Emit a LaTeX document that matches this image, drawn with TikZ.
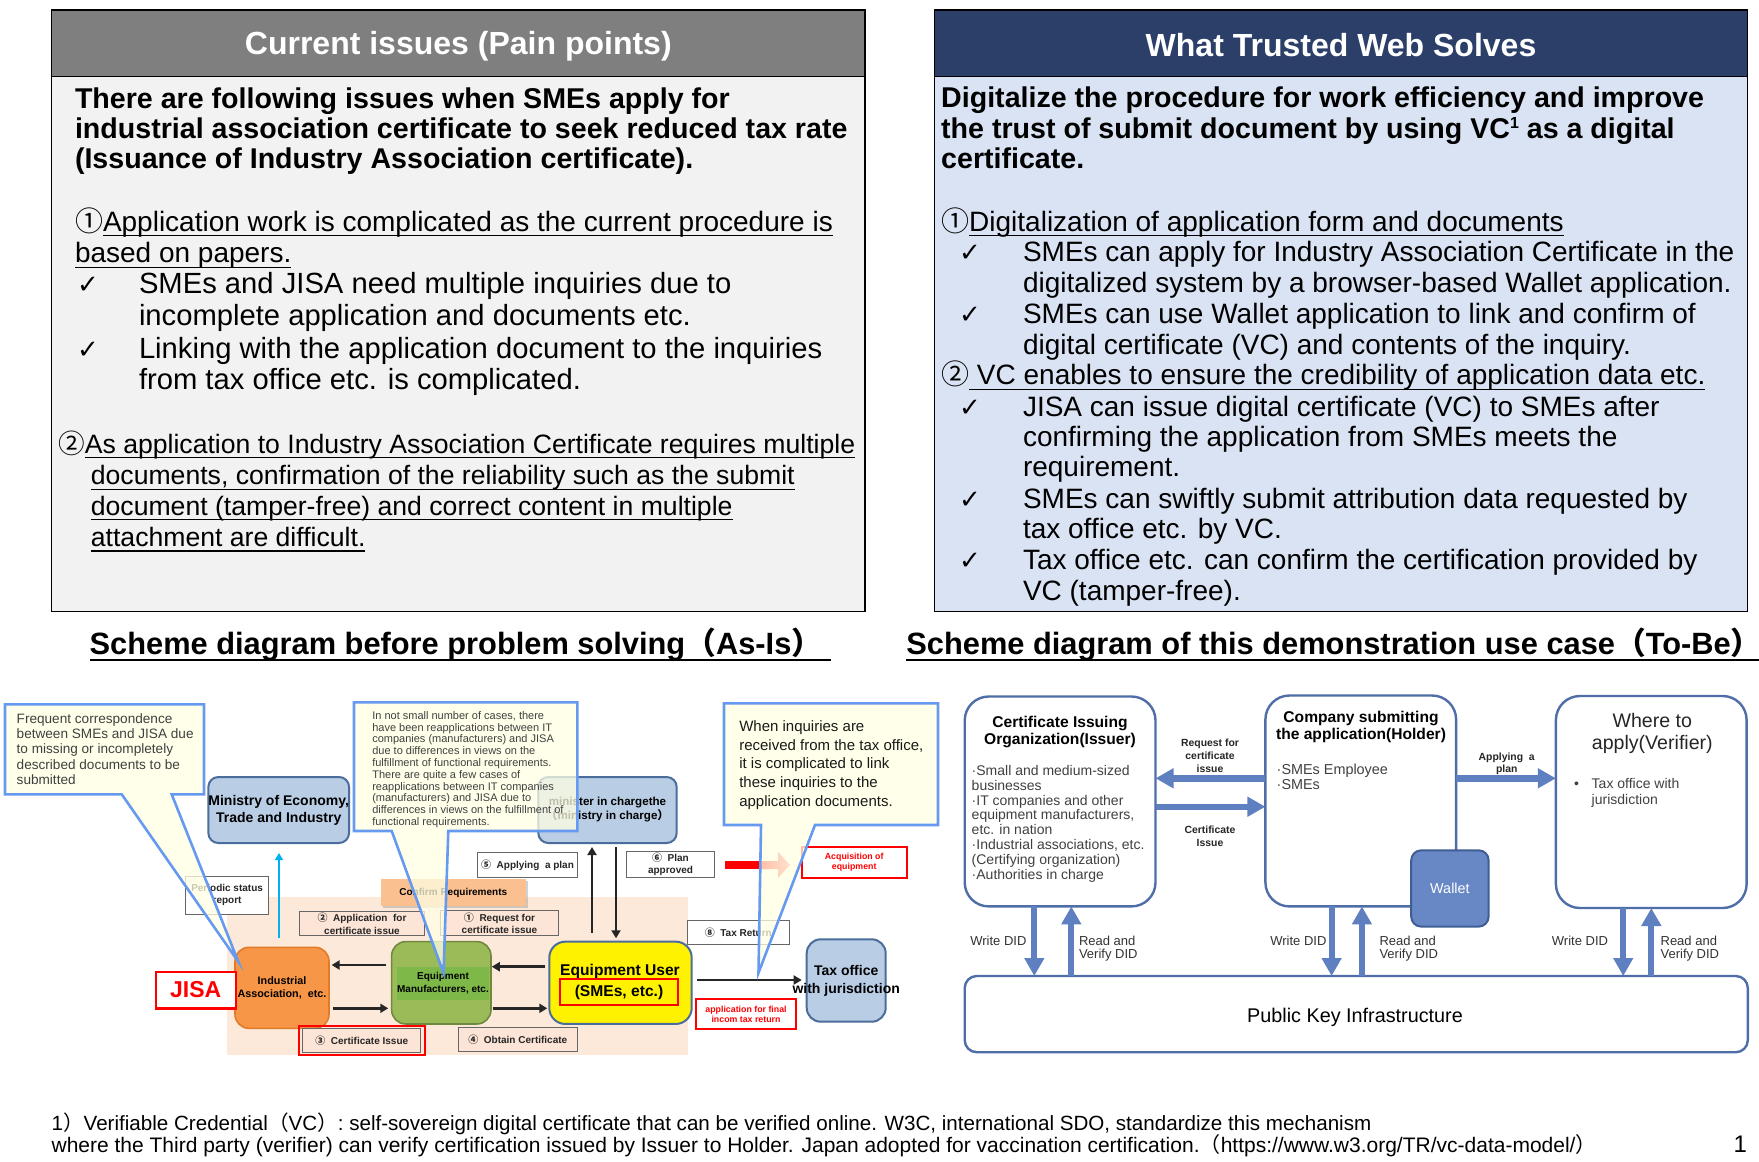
\documentclass[tikz,border=0pt]{standalone}
\usepackage{fontspec}
\setmainfont{Liberation Sans}
\newfontfamily\cjk{Noto Sans CJK JP}
\newfontfamily\djv{DejaVu Sans}
\usetikzlibrary{arrows.meta,shadows}
\newcommand\myfs[2]{\fontsize{#1}{#2}\selectfont}
\newcommand\myul[1]{\setbox0=\hbox{#1}\rlap{\rule[-2.6pt]{\wd0}{0.6pt}}\box0}
\newcommand\myulh[1]{\setbox0=\hbox{#1}\rlap{\rule[-3.3pt]{\wd0}{0.8pt}}\box0}
\definecolor{hdrgray}{HTML}{7F7F7F}
\definecolor{bodygray}{HTML}{F2F2F2}
\definecolor{hdrnavy}{HTML}{2B3F69}
\definecolor{bodyblue}{HTML}{DAE3F3}
\definecolor{callfill}{HTML}{FFFFE3}
\definecolor{callline}{HTML}{6699F0}
\definecolor{peachbg}{HTML}{FDE9D9}
\definecolor{peachbox}{HTML}{FCE4D6}
\definecolor{lorange}{HTML}{FAC090}
\definecolor{orangebox}{HTML}{F79646}
\definecolor{orangeline}{HTML}{E07B2A}
\definecolor{greenbox}{HTML}{9BBB59}
\definecolor{greeninner}{HTML}{7DB848}
\definecolor{greenline}{HTML}{71893F}
\definecolor{steelfill}{HTML}{B9CDE5}
\definecolor{steelline}{HTML}{4A6D9B}
\definecolor{cyanarrow}{HTML}{00B0F0}
\definecolor{tbblue}{HTML}{5F80C0}
\definecolor{tbline}{HTML}{4F6EA8}
\definecolor{walletfill}{HTML}{6887C5}
\definecolor{walletline}{HTML}{3F5E94}
\begin{document}
\begin{tikzpicture}[x=0.5pt,y=-0.5pt,
  every node/.style={inner sep=0pt,outer sep=0pt},
  pb/.style={anchor=base west,font=\myfs{14.3}{16}\bfseries},
  pr/.style={anchor=base west,font=\myfs{14}{16}},
  ck/.style={anchor=base west,font=\djv\myfs{13}{16}},
  stbox/.style={draw=steelline,fill=steelfill,line width=1pt,rounded corners=5pt,font=\myfs{7}{8.5}\bfseries,align=center},
  lbl/.style={draw=gray!80!black,fill=white,line width=0.5pt,font=\myfs{5}{6.2}\bfseries,align=center,text=black!85},
  pch/.style={lbl,fill=peachbox},
  redlbl/.style={draw=red,fill=white,line width=1pt,text=red,font=\myfs{4.4}{5.2}\bfseries,align=center},
  blk/.style={-{Triangle[length=4pt,width=4.5pt]},line width=1.3pt,draw=black!85},
  cyarr/.style={-{Triangle[length=3.5pt,width=4pt]},line width=1.2pt,draw=cyanarrow},
  call/.style={draw=callline,line width=1.3pt,fill=callfill,fill opacity=0.75,line join=miter},
  tbbox/.style={draw=tbline,line width=1.2pt,fill=white,rounded corners=12pt},
  tbarr/.style={-{Triangle[length=9pt,width=9.5pt]},line width=3.2pt,draw=tbblue},
  tblab/.style={font=\myfs{5.2}{6.4}\bfseries,align=center,text=black!85},
  did/.style={font=\myfs{6.5}{6.7},align=left,text=black!80}]
\useasboundingbox (0,0) rectangle (1759,1161);
\fill[white] (0,0) rectangle (1759,1161);

% ---------- top left panel ----------
\draw[line width=0.6pt,fill=bodygray] (51.6,10) rectangle (865,611.4);
\draw[line width=0.6pt,fill=hdrgray] (51.6,10) rectangle (865,76.3);
\node[font=\myfs{16}{19}\bfseries,text=white] (hdl) at (458.3,46.5) {Current issues (Pain points)};
\node[pb] (a1) at (75,108) {There are following issues when SMEs apply for};
\node[pb] (a2) at (75,138) {industrial association certificate to seek reduced tax rate};
\node[pb] (a3) at (75,168) {(Issuance of Industry Association certificate).};
\node[pr] (a4) at (75,231) {{\cjk ①}\myul{Application work is complicated as the current procedure is}};
\node[pr] (a5) at (75,262.5) {\myul{based on papers.}};
\node[ck] (a6) at (77,293) {✓};
\node[pr,font=\myfs{14.6}{16}] (a7) at (139,293) {SMEs and JISA need multiple inquiries due to};
\node[pr,font=\myfs{14.6}{16}] (a8) at (139,325.3) {incomplete application and documents etc.};
\node[ck] (a9) at (77,358) {✓};
\node[pr,font=\myfs{14.6}{16}] (a10) at (139,358) {Linking with the application document to the inquiries};
\node[pr,font=\myfs{14.6}{16}] (a11) at (139,389.3) {from tax office etc. is complicated.};
\node[pr,font=\myfs{13.3}{16}] (a12) at (58.3,453) {{\cjk ②}\myul{As application to Industry Association Certificate requires multiple}};
\node[pr,font=\myfs{13.3}{16}] (a13) at (90.9,484.6) {\myul{documents, confirmation of the reliability such as the submit}};
\node[pr,font=\myfs{13.3}{16}] (a14) at (90.9,515) {\myul{document (tamper-free) and correct content in multiple}};
\node[pr,font=\myfs{13.3}{16}] (a15) at (90.9,546.3) {\myul{attachment are difficult.}};

% ---------- top right panel ----------
\draw[line width=0.6pt,fill=bodyblue] (934.5,10) rectangle (1747.8,611.4);
\draw[line width=0.6pt,fill=hdrnavy] (934.5,10) rectangle (1747.8,76.3);
\node[font=\myfs{16}{19}\bfseries,text=white] (hdr) at (1341,45) {What Trusted Web Solves};
\node[pb] (b1) at (941.2,107.7) {Digitalize the procedure for work efficiency and improve};
\node[pb] (b2) at (941.2,138) {the trust of submit document by using VC{\myfs{8}{8}\raisebox{5pt}{1}} as a digital};
\node[pb] (b3) at (941.2,168.3) {certificate.};
\node[pr] (b4) at (941.2,231.1) {{\cjk ①}\myul{Digitalization of application form and documents}};
\node[ck] (b5) at (959,261.4) {✓};
\node[pr] (b6) at (1023,261.4) {SMEs can apply for Industry Association Certificate in the};
\node[pr] (b7) at (1023,292.8) {digitalized system by a browser-based Wallet application.};
\node[ck] (b8) at (959,323.1) {✓};
\node[pr] (b9) at (1023,323.1) {SMEs can use Wallet application to link and confirm of};
\node[pr] (b10) at (1023,354.5) {digital certificate (VC) and contents of the inquiry.};
\node[pr] (b11) at (941.2,384.8) {{\cjk ②}\myul{ VC enables to ensure the credibility of application data etc.}};
\node[ck] (b12) at (959,416.2) {✓};
\node[pr] (b13) at (1023,416.2) {JISA can issue digital certificate (VC) to SMEs after};
\node[pr] (b14) at (1023,446.5) {confirming the application from SMEs meets the};
\node[pr] (b15) at (1023,476.8) {requirement.};
\node[ck] (b16) at (959,508.2) {✓};
\node[pr] (b17) at (1023,508.2) {SMEs can swiftly submit attribution data requested by};
\node[pr] (b18) at (1023,538.5) {tax office etc. by VC.};
\node[ck] (b19) at (959,569.9) {✓};
\node[pr] (b20) at (1023,569.9) {Tax office etc. can confirm the certification provided by};
\node[pr] (b21) at (1023,600.2) {VC (tamper-free).};

% ---------- section headings ----------
\node[anchor=base west,font=\myfs{15.4}{18}\bfseries] (h1) at (89.7,654) {\myulh{Scheme diagram before problem solving{\cjk （}As-Is{\cjk ）}\ }};
\node[anchor=base west,font=\myfs{15.4}{18}\bfseries] (h2) at (906.4,654) {\myulh{Scheme diagram of this demonstration use case{\cjk （}To-Be{\cjk ）}}};

% ---------- As-Is diagram ----------
\fill[peachbg] (226.6,897) rectangle (687.7,1055);
\node[stbox,minimum width=70.35pt,minimum height=33pt] (mini) at (278.7,810) {Ministry of Economy,\\Trade and Industry};
\node[stbox,minimum width=69.2pt,minimum height=33pt,font=\myfs{5.8}{7}\bfseries] (mins) at (607.5,810) {minister in chargethe\\{\cjk （}ministry in charge{\cjk ）}};
\node[lbl,minimum width=41.6pt,minimum height=19.15pt] (per) at (227.1,895.2) {Periodic status\\report};
\node[fill=lorange,minimum width=72.65pt,minimum height=13.35pt,font=\myfs{5}{6}\bfseries,drop shadow={opacity=0.35,shadow xshift=1pt,shadow yshift=-1pt}] (conf) at (453.3,892.7) {Confirm Requirements};
\node[pch,minimum width=62.3pt,minimum height=12pt] (lab2) at (362,923.7) {{\cjk ②}\ \ Application\ \ for\\certificate issue};
\node[pch,minimum width=58.8pt,minimum height=12.25pt] (lab1) at (499.5,923.2) {{\cjk ①}\ \ Request for\\certificate issue};
\node[draw=orangeline,fill=orangebox,line width=0.8pt,rounded corners=7pt,minimum width=47pt,minimum height=40.5pt,font=\myfs{5.4}{6.7}\bfseries,align=center] (ind) at (282,987.8) {Industrial\\Association,\ \ etc.};
\node[draw=red,fill=white,line width=1.2pt,minimum width=40pt,minimum height=18.3pt,text=red,font=\myfs{11.5}{13}\bfseries] (jisa) at (195.7,990) {JISA};
\node[draw=greenline,fill=greenbox,line width=0.8pt,rounded corners=7pt,minimum width=49.65pt,minimum height=41.15pt] (mfr) at (441.3,982.8) {};
\node[fill=greeninner,minimum width=42pt,minimum height=16.65pt,font=\myfs{5}{6.2}\bfseries,align=center] (mfrT) at (443,983.3) {Equipment\\Manufacturers, etc.};
\node[draw=steelline,fill=yellow,line width=1pt,rounded corners=8pt,minimum width=71.2pt,minimum height=41.15pt] (user) at (620.5,982.8) {};
\node[font=\myfs{7.8}{9}\bfseries] (userT) at (620,971) {Equipment User};
\node[draw=red,line width=1pt,minimum width=59pt,minimum height=12.85pt,font=\myfs{7.8}{9}\bfseries] (userS) at (619,992.2) {(SMEs, etc.)};
\node[stbox,minimum width=39.5pt,minimum height=41.2pt,rounded corners=7pt] (tax) at (846.2,980.5) {};
\node[font=\myfs{7}{9}\bfseries,align=center] (taxT) at (846.2,980.5) {Tax office\\with jurisdiction};
\node[pch,minimum width=59.15pt,minimum height=12pt] (lab3) at (361.8,1040.3) {{\cjk ③}\ \ Certificate Issue};
\draw[red,line width=1pt] (299.3,1026) rectangle (425,1055);
\node[pch,minimum width=59.5pt,minimum height=12.2pt] (lab4) at (517.8,1039.5) {{\cjk ④}\ \ Obtain Certificate};
\node[lbl,minimum width=49.8pt,minimum height=12.5pt] (lab5) at (527.5,865.2) {{\cjk ⑤}\ \ Applying\ \ a plan};
\node[lbl,minimum width=43.8pt,minimum height=12.8pt] (lab6) at (670.5,864.5) {{\cjk ⑥}\ \ Plan\\approved};
\node[lbl,minimum width=51pt,minimum height=12.15pt] (lab8) at (738.3,932.2) {{\cjk ⑧}\ \ Tax Return};
\node[redlbl,minimum width=52.5pt,minimum height=15.2pt] (acq) at (854.2,862.5) {Acquisition of\\equipment};
\node[redlbl,minimum width=50pt,minimum height=15pt] (fin) at (746,1014.3) {application for final\\incom tax return};

% red block arrow
\fill[red] (725,861) rectangle (760,869);
\shade[left color=red,right color=red!45] (760,861) -- (778,861) -- (778,852) -- (790,865) -- (778,878) -- (778,869) -- (760,869) -- cycle;

% connectors
\coordinate (ya1) at (0,965);
\coordinate (ya2) at (0,1008.3);
\coordinate (ya3) at (0,966.7);
\coordinate (ya4) at (0,980);
\coordinate (xa1) at (592,0);
\coordinate (xa2) at (616,0);
\coordinate (xc) at (279,0);
\draw[blk,shorten <=3pt,shorten >=1.3pt] (ya1 -| mfr.west) -- (ya1 -| ind.east);
\draw[blk,shorten <=2pt,shorten >=1.7pt] (ya2 -| ind.east) -- (ya2 -| mfr.west);
\draw[blk,shorten <=2pt,shorten >=0.4pt] (ya3 -| user.west) -- (ya3 -| mfr.east);
\draw[blk,shorten <=1pt,shorten >=1pt] (ya2 -| mfr.east) -- (ya2 -| user.west);
\draw[blk,shorten <=4.5pt,shorten >=2pt] (xa1 |- user.north) -- (xa1 |- mins.south);
\draw[blk,shorten <=2pt,shorten >=1.7pt] (xa2 |- mins.south) -- (xa2 |- user.north);
\draw[blk,shorten <=2.5pt,shorten >=2.5pt] (ya4 -| user.east) -- (ya4 -| tax.west);
\draw[cyarr,shorten <=4.5pt,shorten >=5pt] (xc |- ind.north) -- (xc |- mini.south);

% callouts
\filldraw[call] (5,704.3) -- (204,704.3) -- (204,794.3) -- (171.7,794.3) -- (238.3,961.7) -- (121.7,794.3) -- (5,794.3) -- cycle;
\filldraw[call] (354,702.3) -- (577.3,702.3) -- (577.3,831) -- (448.3,831) -- (443.5,973) -- (391.7,831) -- (354,831) -- cycle;
\filldraw[call] (724,703.3) -- (938,703.3) -- (938,825) -- (815,825) -- (758.5,972.7) -- (761,825) -- (724,825) -- cycle;
\node[anchor=north west,align=left,font=\myfs{6.8}{7.6},text=black!75] (c1t) at (16.7,713.6) {Frequent correspondence\\between SMEs and JISA due\\to missing or incompletely\\described documents to be\\submitted};
\node[anchor=north west,align=left,font=\myfs{5.5}{5.89},text=black!75] (c2t) at (372.3,711.4) {In not small number of cases, there\\have been reapplications between IT\\companies (manufacturers) and JISA\\due to differences in views on the\\fulfillment of functional requirements.\\There are quite a few cases of\\reapplications between IT companies\\(manufacturers) and JISA due to\\differences in views on the fulfillment of\\functional requirements.};
\node[anchor=north west,align=left,font=\myfs{7.5}{9.3},text=black!90] (c3t) at (739.3,720.9) {When inquiries are\\received from the tax office,\\it is complicated to link\\these inquiries to the\\application documents.};

% ---------- To-Be diagram ----------
\node[tbbox,minimum width=95.4pt,minimum height=104.95pt] (issuer) at (1060.1,801.45) {};
\node[tbbox,minimum width=95.35pt,minimum height=105.45pt] (holder) at (1360.75,800.95) {};
\node[tbbox,minimum width=95.35pt,minimum height=106pt] (verif) at (1651.25,802) {};
\node[tbbox,rounded corners=6pt,minimum width=391.55pt,minimum height=38.1pt] (pki) at (1356.25,1014.1) {};
\node[font=\myfs{9.9}{11}] (pkiT) at (1355,1017.5) {Public Key Infrastructure};
\node[draw=walletline,fill=walletfill,line width=1pt,rounded corners=5pt,minimum width=38.7pt,minimum height=38.15pt,text=white,font=\myfs{7.2}{8}] (wallet) at (1449.9,888.45) {Wallet};

\node[font=\myfs{7.8}{8.35}\bfseries,align=center] (issT) at (1060,731.7) {Certificate Issuing\\Organization(Issuer)};
\node[anchor=north west,align=left,font=\myfs{7}{7.4},text=black!75] (issB) at (971.7,765.4) {·Small and medium-sized\\businesses\\·IT companies and other\\equipment manufacturers,\\etc. in nation\\·Industrial associations, etc.\\(Certifying organization)\\·Authorities in charge};
\node[font=\myfs{7.8}{8.35}\bfseries,align=center] (holT) at (1361,726.7) {Company submitting\\the application(Holder)};
\node[anchor=north west,align=left,font=\myfs{7.2}{7.5},text=black!75] (holB) at (1276.7,764.5) {·SMEs Employee\\·SMEs};
\node[font=\myfs{9.8}{11},align=center,text=black!85] (verT) at (1652.3,733.3) {Where to\\apply(Verifier)};
\node[anchor=base west,font=\myfs{7}{7.8},text=black!75] (verD) at (1574,788.9) {•};
\node[anchor=north west,align=left,font=\myfs{7}{7.8},text=black!75] (verB) at (1591.7,778.8) {Tax office with\\jurisdiction};

\coordinate (yreq) at (0,778.3);
\coordinate (ycert) at (0,806.7);
\draw[tbarr] (yreq -| holder.west) -- (yreq -| issuer.east);
\draw[tbarr] (ycert -| issuer.east) -- (ycert -| holder.west);
\draw[tbarr] (yreq -| holder.east) -- (yreq -| verif.west);
\node[tblab] (lreq) at (1210,756) {Request for\\certificate\\issue};
\node[tblab] (lcert) at (1210,836.3) {Certificate\\Issue};
\node[tblab] (lapp) at (1506.7,763.8) {Applying\ \ a\\plan};

\coordinate (xw1) at (1034.3,0);
\coordinate (xr1) at (1071.3,0);
\coordinate (xw2) at (1331.6,0);
\coordinate (xr2) at (1361.9,0);
\coordinate (xw3) at (1623.2,0);
\coordinate (xr3) at (1651.3,0);
\draw[tbarr,line width=2.9pt] (xw1 |- issuer.south) -- (xw1 |- pki.north);
\draw[tbarr,line width=2.9pt] (xr1 |- pki.north) -- (xr1 |- issuer.south);
\draw[tbarr,line width=2.9pt] (xw2 |- holder.south) -- (xw2 |- pki.north);
\draw[tbarr,line width=2.9pt] (xr2 |- pki.north) -- (xr2 |- holder.south);
\draw[tbarr,line width=2.9pt] (xw3 |- verif.south) -- (xw3 |- pki.north);
\draw[tbarr,line width=2.9pt] (xr3 |- pki.north) -- (xr3 |- verif.south);
\node[did,anchor=base east] (w1) at (1026.4,945.5) {Write DID};
\node[did,anchor=north west] (r1) at (1079,936.1) {Read and\\Verify DID};
\node[did,anchor=base east] (w2) at (1326.4,945.5) {Write DID};
\node[did,anchor=north west] (r2) at (1379.5,936.1) {Read and\\Verify DID};
\node[did,anchor=base east] (w3) at (1608,945.5) {Write DID};
\node[did,anchor=north west] (r3) at (1660.6,936.1) {Read and\\Verify DID};

% ---------- footnote ----------
\node[anchor=base west,font=\myfs{10.3}{12}] (fn1) at (51.6,1130) {1{\cjk ）}Verifiable Credential{\cjk （}VC{\cjk ）}: self-sovereign digital certificate that can be verified online. W3C, international SDO, standardize this mechanism};
\node[anchor=base west,font=\myfs{10.5}{12}] (fn2) at (51.6,1152) {where the Third party (verifier) can verify certification issued by Issuer to Holder. Japan adopted for vaccination certification.{\cjk （}https://www.w3.org/TR/vc-data-model/{\cjk ）}};
\node[anchor=base east,font=\myfs{12}{14}] (pg) at (1747,1152) {1};
\end{tikzpicture}
\end{document}
